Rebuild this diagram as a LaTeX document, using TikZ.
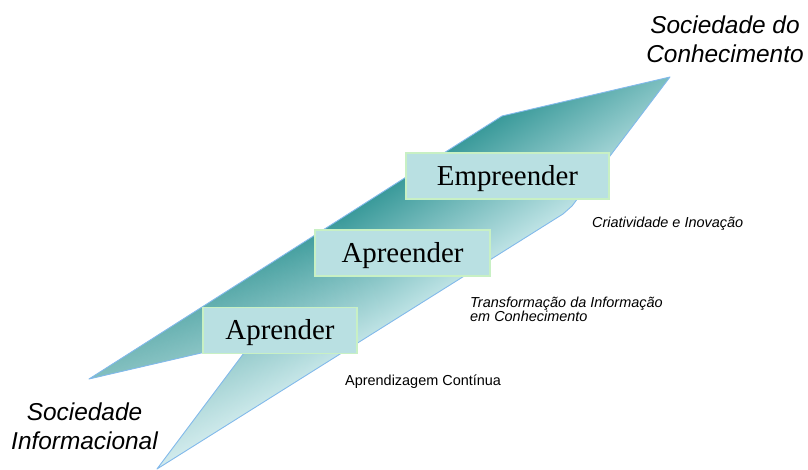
\documentclass[tikz,border=0pt]{standalone}
\usepackage{fontspec}
\setmainfont{Liberation Serif}
\newfontfamily\arial{Liberation Sans}
\usetikzlibrary{fadings}

\definecolor{tealdark}{RGB}{58,154,154}
\definecolor{tealmid}{RGB}{104,178,179}
\definecolor{teallight}{RGB}{190,227,229}
\definecolor{boxfill}{RGB}{185,224,226}
\definecolor{boxline}{RGB}{200,240,196}
\definecolor{edgeblue}{RGB}{130,185,235}

\tikzfading[name=fadetail, left color=transparent!62, right color=transparent!100]

\begin{document}
\begin{tikzpicture}[x=1bp, y=1bp,
     stage/.style = {draw=boxline, line width=1.3bp, fill=boxfill, rectangle,
       minimum height=46bp, inner sep=0pt, text height=19bp, text depth=0pt,
       font=\fontsize{29}{34}\selectfont},
     society/.style = {align=center, inner sep=0pt,
       font=\arial\itshape\fontsize{24.5}{29}\selectfont},
     note/.style = {inner sep=0pt, font=\arial\itshape\fontsize{14.5}{14}\selectfont},
     bolt/.style = {draw=edgeblue, line width=0.9bp, line join=round}
    ]
    \useasboundingbox (0,0) rectangle (808,470);

    % corners of the bolt
    \coordinate (tip) at (670,393);
    \coordinate (kink) at (502,354);
    \coordinate (lefttip) at (89,91);
    \coordinate (notch) at (253,129);
    \coordinate (foot) at (157,1);
    \coordinate (lowbend) at (563,256);
    \coordinate (highbend) at (572,264);

    \begin{scope}
    \clip (tip) -- (kink) -- (lefttip) -- (notch) -- (foot) -- (lowbend) -- (highbend) -- cycle;
    \shade[transform canvas={shift={(375,205)}, rotate=32.5},
      top color=tealdark, middle color=tealmid, bottom color=teallight]
      (-430,-58) rectangle (430,58);
    \fill[white, path fading=fadetail, transform canvas={shift={(375,205)}, rotate=32.5}]
      (-310,-60) rectangle (0,60);
    \end{scope}
    \path[bolt] (tip) -- (kink) -- (lefttip) -- (notch) -- (foot) -- (lowbend) -- (highbend) -- cycle;

    % the three steps
    \node [stage, minimum width=154bp] (aprender) at (280,139.5) {Aprender};
    \node [stage, minimum width=175bp] (apreender) at (402.5,217) {Apreender};
    \node [stage, minimum width=203bp] (empreender) at (507.5,294) {Empreender};

    \node [note, anchor=base west] (criatividade) at (592,242) {Criatividade e Inovação};
    \node [note, align=left, anchor=west] (transformacao) at (470,160.6)
      {Transformação da Informação\\em Conhecimento};
    \node [note, font=\arial\fontsize{14.5}{14}\selectfont, anchor=base west] (continua)
      at (345,84.3) {Aprendizagem Contínua};

    \node [society] (conhecimento) at (725,431) {Sociedade do\\Conhecimento};
    \node [society] (informacional) at (84.5,43.5) {Sociedade\\Informacional};
\end{tikzpicture}
\end{document}
